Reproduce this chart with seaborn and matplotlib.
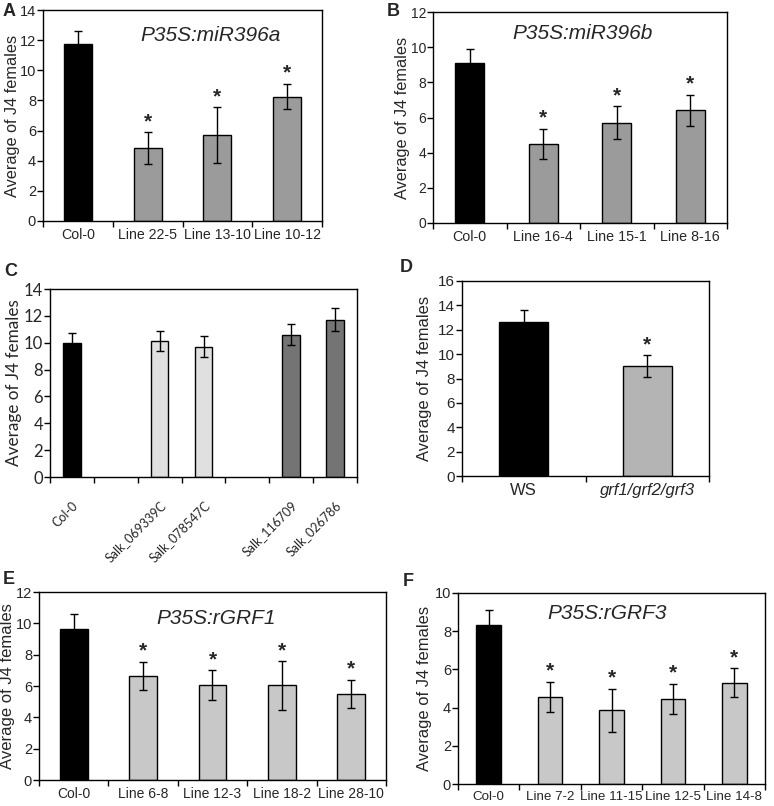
import numpy as np
import pandas as pd
import matplotlib
matplotlib.use('Agg')
import matplotlib.pyplot as plt
import seaborn as sns

sns.set_style('white')
plt.rcParams['font.family'] = ['Liberation Sans', 'DejaVu Sans']

W, H = 774, 806
YLAB = 'Average of J4 females'

# panel A
a_cats = ['Col-0', 'Line 22-5', 'Line 13-10', 'Line 10-12']
a_vals = [11.75, 4.85, 5.7, 8.25]
a_errs = [0.85, 1.05, 1.85, 0.85]
a_star = [False, True, True, True]

# panel B
b_cats = ['Col-0', 'Line 16-4', 'Line 15-1', 'Line 8-16']
b_vals = [9.1, 4.5, 5.7, 6.4]
b_errs = [0.8, 0.85, 0.95, 0.9]
b_star = [False, True, True, True]

# panel C (gaps between groups)
c_order = ['Col-0', 'gap1', 'Salk_069339C', 'Salk_078547C', 'gap2', 'Salk_116709', 'Salk_026786']
c_cats = ['Col-0', 'Salk_069339C', 'Salk_078547C', 'Salk_116709', 'Salk_026786']
c_vals = [10.0, 10.15, 9.7, 10.6, 11.7]
c_errs = [0.75, 0.75, 0.8, 0.8, 0.85]

# panel D
d_cats = ['WS', 'grf1/grf2/grf3']
d_vals = [12.6, 9.0]
d_errs = [1.05, 0.9]
d_star = [False, True]

# panel E
e_cats = ['Col-0', 'Line 6-8', 'Line 12-3', 'Line 18-2', 'Line 28-10']
e_vals = [9.65, 6.65, 6.05, 6.05, 5.5]
e_errs = [0.95, 0.9, 0.95, 1.55, 0.9]
e_star = [False, True, True, True, True]

# panel F
f_cats = ['Col-0', 'Line 7-2', 'Line 11-15', 'Line 12-5', 'Line 14-8']
f_vals = [8.35, 4.55, 3.85, 4.45, 5.3]
f_errs = [0.75, 0.8, 1.15, 0.8, 0.75]
f_star = [False, True, True, True, True]


def box(l, t, r, b):
    return [l / W, 1 - b / H, (r - l) / W, (b - t) / H]


fig = plt.figure(figsize=(W / 100, H / 100), dpi=100)


def panel(rect, cats, vals, errs, colors, order=None, stars=None, ymax=14, ystep=2,
          title=None, tx=0.5, ty=0.88, letter=None, lpos=None, xfs=10.3, yfs=10.5,
          ylab_fs=11.8, ylab_x=None, font=None, rot=0, italic_last=False):
    ax = fig.add_axes(box(*rect))
    order = order or cats
    df = pd.DataFrame({'cat': cats, 'val': vals})
    pal = dict(zip(cats, colors))
    sns.barplot(data=df, x='cat', y='val', order=order, hue='cat', palette=pal,
                legend=False, width=0.4, edgecolor='black', linewidth=1, saturation=1,
                errorbar=None, ax=ax)
    pos = [order.index(c) for c in cats]
    ax.errorbar(pos, vals, yerr=errs, fmt='none', ecolor='black', elinewidth=1,
                capsize=3, capthick=1, zorder=5)
    if stars:
        for p, v, e, s in zip(pos, vals, errs, stars):
            if s:
                ax.text(p, v + e + ymax * 0.005, '*', ha='center', va='bottom',
                        fontsize=15, fontweight='bold')
    n = len(order)
    ax.set_xlim(-0.5, n - 0.5)
    ax.set_ylim(0, ymax)
    ax.set_yticks(np.arange(0, ymax + 0.1, ystep))
    ax.set_xticks(np.arange(-0.5, n, 1.0))
    ax.set_xticklabels([])
    ax.set_xticks(range(n), minor=True)
    labels = [c if c in cats else '' for c in order]
    fam = [font, 'DejaVu Sans'] if font else ['Liberation Sans', 'DejaVu Sans']
    if rot:
        ax.set_xticklabels(labels, minor=True, rotation=rot, ha='right',
                           rotation_mode='anchor', fontsize=xfs, family=fam)
    else:
        ax.set_xticklabels(labels, minor=True, fontsize=xfs, family=fam)
    if italic_last:
        ax.get_xticklabels(minor=True)[-1].set_style('italic')
    ax.tick_params(axis='x', which='major', direction='out', length=4, width=1,
                   bottom=True, color='black')
    ax.tick_params(axis='x', which='minor', length=0, pad=5 if not rot else 16)
    ax.tick_params(axis='y', direction='out', length=4, width=1, left=True,
                   labelsize=yfs, pad=1, color='black')
    for t in ax.get_yticklabels():
        t.set_family(fam)
    ax.set_xlabel('')
    ax.set_ylabel(YLAB, fontsize=ylab_fs, family=fam)
    if ylab_x is not None:
        # ylab_x is the pixel x of the label's right edge
        ax.yaxis.set_label_coords((ylab_x - rect[0]) / (rect[2] - rect[0]), 0.5)
    for sp in ax.spines.values():
        sp.set_color('black')
        sp.set_linewidth(1)
    if title:
        ax.text(tx, ty, title, transform=ax.transAxes, ha='center', va='center',
                fontsize=15, style='italic')
    if letter:
        fig.text(lpos[0] / W, 1 - lpos[1] / H, letter, fontsize=13, fontweight='bold',
                 ha='left', va='center')
    return ax


panel((43, 10, 322, 221), a_cats, a_vals, a_errs, ['black'] + ['#9b9b9b'] * 3,
      stars=a_star, ymax=14, title='P35S:miR396a', tx=0.60, ty=0.88,
      letter='A', lpos=(3, 12), ylab_x=20, ylab_fs=11.7, xfs=10.2)
panel((433, 12, 727, 223), b_cats, b_vals, b_errs, ['black'] + ['#9b9b9b'] * 3,
      stars=b_star, ymax=12, title='P35S:miR396b', tx=0.51, ty=0.9,
      letter='B', lpos=(387, 12), ylab_x=410, yfs=10, ylab_fs=11.7)
panel((50, 289, 357, 477), c_cats, c_vals, c_errs,
      ['black', '#e0e0e0', '#e0e0e0', '#747474', '#747474'], order=c_order,
      ymax=14, letter='C', lpos=(4, 271), xfs=9, yfs=12, ylab_fs=12.3,
      ylab_x=22, font='Lato', rot=45)
panel((462, 281, 709, 476), d_cats, d_vals, d_errs, ['black', '#b4b4b4'],
      stars=d_star, ymax=16, letter='D', lpos=(400, 268), xfs=12, yfs=11,
      ylab_x=432, ylab_fs=11.9, italic_last=True)
panel((39, 592, 386, 780), e_cats, e_vals, e_errs, ['black'] + ['#c8c8c8'] * 4,
      stars=e_star, ymax=12, title='P35S:rGRF1', tx=0.51, ty=0.86,
      letter='E', lpos=(3, 579), xfs=10, yfs=10.5, ylab_fs=12, ylab_x=15)
panel((458, 593, 765, 784), f_cats, f_vals, f_errs, ['black'] + ['#c8c8c8'] * 4,
      stars=f_star, ymax=10, title='P35S:rGRF3', tx=0.485, ty=0.895,
      letter='F', lpos=(403, 581), xfs=9.6, yfs=10.5, ylab_fs=11.9, ylab_x=432)

fig.savefig('out.png', dpi=100)
